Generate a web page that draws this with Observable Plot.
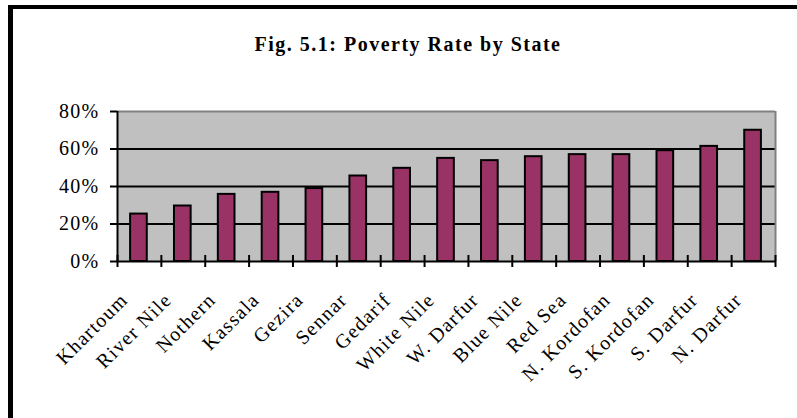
<!DOCTYPE html>
<html>
<head>
<meta charset="utf-8">
<script src="https://cdn.jsdelivr.net/npm/d3@7"></script>
<script src="https://cdn.jsdelivr.net/npm/@observablehq/plot@0.6"></script>
<style>
  html, body { margin: 0; padding: 0; background: #fff; }
  #wrap { position: relative; width: 797px; height: 418px; overflow: hidden; font-family: "Liberation Serif", "Times New Roman", serif; }
  #frame { position: absolute; left: 8px; top: 5px; right: -20px; bottom: -20px; border-left: 5px solid #000; border-top: 4px solid #000; }
  #title { position: absolute; left: 13px; width: 790px; top: 34px; text-align: center; font-weight: bold; font-size: 20px; line-height: 20px; letter-spacing: 1.5px; color: #000; }
  #chart { position: absolute; left: 0; top: 0; }
  #chart svg text { letter-spacing: 1.3px; }
</style>
</head>
<body>
<div id="wrap">
  <div id="frame"></div>
  <div id="chart"></div>
  <div id="title">Fig. 5.1: Poverty Rate by State</div>
</div>
<script>
const states = ["Khartoum", "River Nile", "Nothern", "Kassala", "Gezira", "Sennar", "Gedarif", "White Nile", "W. Darfur", "Blue Nile", "Red Sea", "N. Kordofan", "S. Kordofan", "S. Darfur", "N. Darfur"];
const povertyRate = [25.3, 29.6, 35.8, 36.9, 38.9, 45.6, 49.7, 55.0, 53.8, 55.9, 57.0, 57.0, 59.1, 61.4, 70.0];
const yTicks = [0, 20, 40, 60, 80];
const gridValues = [20, 40, 60];

const data = states.map((s, i) => ({state: s, i, value: povertyRate[i]}));
const boundaries = d3.range(states.length + 1);

const chart = Plot.plot({
  width: 797,
  height: 418,
  marginLeft: 117,
  marginRight: 22,
  marginTop: 111,
  marginBottom: 157,
  style: {fontFamily: '"Liberation Serif", "Times New Roman", serif', fontSize: "20px", background: "transparent", color: "#000"},
  x: {domain: [0, states.length], axis: null},
  y: {domain: [0, 80], axis: null},
  marks: [
    Plot.frame({fill: "#c0c0c0", stroke: null}),
    Plot.ruleY(gridValues, {stroke: "#000", strokeWidth: 2}),
    Plot.ruleY([80], {stroke: "#808080", strokeWidth: 2}),
    Plot.ruleX([states.length], {stroke: "#808080", strokeWidth: 2}),
    Plot.rectY(data, {x1: "i", x2: d => d.i + 1, y1: 0, y2: "value", fill: "#993366", stroke: "#000", strokeWidth: 2, insetLeft: 13.1, insetRight: 14.1}),
    Plot.ruleY([0], {stroke: "#000", strokeWidth: 2}),
    Plot.ruleX([0], {stroke: "#000", strokeWidth: 2}),
    Plot.ruleX(boundaries, {x: d => d, y1: 0, y2: 0, insetTop: -6, insetBottom: -6, stroke: "#000", strokeWidth: 2}),
    Plot.axisY({ticks: yTicks, tickSize: 7, tickPadding: 11, tickFormat: d => d + "%", strokeWidth: 2, fontSize: 20, label: null}),
    Plot.text(data, {x: d => d.i + 0.5, y: 0, text: "state", rotate: -45, textAnchor: "end", dx: -15, dy: 35, fontSize: 20})
  ]
});
document.getElementById("chart").appendChild(chart);
</script>
</body>
</html>
